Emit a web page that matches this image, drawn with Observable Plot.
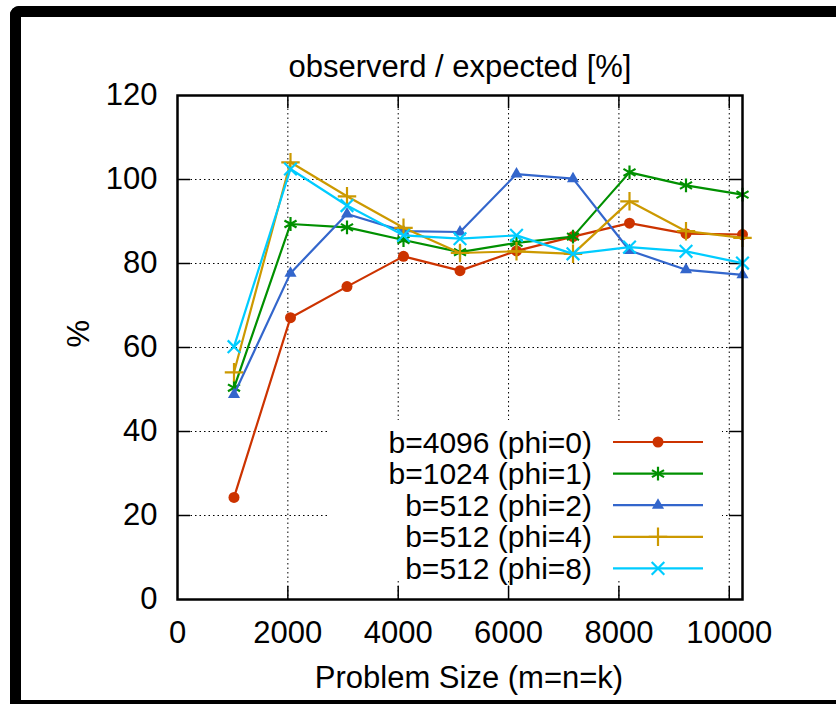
<!DOCTYPE html>
<html><head><meta charset="utf-8">
<script src="https://cdn.jsdelivr.net/npm/d3@7"></script>
<script src="https://cdn.jsdelivr.net/npm/@observablehq/plot@0.6"></script>
<style>
html,body{margin:0;padding:0;background:#fff;}
#wrap{position:relative;width:836px;height:704px;overflow:hidden;background:#fff;}
#chart{position:absolute;left:0;top:0;}
#border{position:absolute;left:10px;top:6px;width:900px;height:683px;border-left:11px solid #000;border-top:11px solid #000;border-bottom:11px solid #000;border-top-left-radius:9px;pointer-events:none;}
</style></head>
<body>
<div id="wrap"><div id="chart"></div><div id="border"></div></div>
<script>
// ---- data ----
const sizes = [1024, 2048, 3072, 4096, 5120, 6144, 7168, 8192, 9216, 10240];
const phi0 = [24.3, 67.1, 74.5, 81.7, 78.3, 83.0, 86.4, 89.6, 87.1, 86.9];
const phi1 = [50.4, 89.4, 88.6, 85.6, 82.7, 84.9, 86.4, 101.7, 98.6, 96.4];
const phi2 = [48.8, 77.7, 91.8, 87.7, 87.5, 101.3, 100.2, 83.1, 78.5, 77.3];
const phi4 = [54.1, 104.1, 96.0, 88.5, 82.5, 82.9, 82.3, 94.8, 87.7, 86.1];
const phi8 = [60.2, 102.5, 93.8, 86.7, 85.9, 86.7, 82.3, 83.9, 82.9, 80.1];
const seriesLabels = ["b=4096 (phi=0)", "b=1024 (phi=1)", "b=512 (phi=2)", "b=512 (phi=4)", "b=512 (phi=8)"];
const seriesColors = ["#cc3300", "#009000", "#3366cc", "#cc9900", "#00ccff"];
const seriesSymbols = ["circle", "asterisk", "triangle", "plus", "times"];
const xTicks = [0, 2000, 4000, 6000, 8000, 10000];
const yTicks = [0, 20, 40, 60, 80, 100, 120];
const titleText = "observerd / expected [%]";
const xLabel = "Problem Size (m=n=k)";
const yLabel = "%";

// ---- build ----
const W = 836, H = 704, mL = 177, mR = 94, mT = 95, mB = 105;
const pw = W - mL - mR, ph = H - mT - mB, tick = 13;
const filled = {circle: true, triangle: true};
const radius = {circle: 5.5, asterisk: 6.6, triangle: 4.5, plus: 6, times: 5.8};
const series = [phi0, phi1, phi2, phi4, phi8].map((vals, i) => ({
  label: seriesLabels[i], color: seriesColors[i], symbol: seriesSymbols[i],
  rows: sizes.map((x, j) => ({x, y: vals[j]}))
}));
const xInner = xTicks.filter(d => d > 0);
const yInner = yTicks.filter(d => d > 0 && d < 120);
const fam = "'Liberation Sans', Arial, Helvetica, sans-serif";

const chart = Plot.plot({
  width: W, height: H,
  marginLeft: mL, marginRight: mR, marginTop: mT, marginBottom: mB,
  style: {fontFamily: fam, fontSize: "31px", background: "transparent", color: "black"},
  x: {domain: [0, 10240]},
  y: {domain: [0, 120]},
  marks: [
    Plot.ruleY(yInner, {y: d => d, stroke: "black", strokeWidth: 1, strokeDasharray: "1.5,3"}),
    Plot.ruleX(xInner, {x: d => d, stroke: "black", strokeWidth: 1, strokeDasharray: "1.5,3"}),
    Plot.tickY(yInner, {y: d => d, insetRight: pw - tick, stroke: "black", strokeWidth: 1.5}),
    Plot.tickY(yInner, {y: d => d, insetLeft: pw - tick, stroke: "black", strokeWidth: 1.5}),
    Plot.tickX(xInner, {x: d => d, insetTop: ph - tick, stroke: "black", strokeWidth: 1.5}),
    Plot.tickX(xInner, {x: d => d, insetBottom: ph - tick, stroke: "black", strokeWidth: 1.5}),
    Plot.axisX(xTicks, {tickSize: 0, tickPadding: 21, fontSize: 31, label: null, tickFormat: d => String(d)}),
    Plot.axisY(yTicks, {tickSize: 0, tickPadding: 20, fontSize: 31, label: null, tickFormat: d => String(d)}),
    ...series.flatMap(s => [
      Plot.line(s.rows, {x: "x", y: "y", stroke: s.color, strokeWidth: 2.2}),
      Plot.dot(s.rows, {x: "x", y: "y", symbol: s.symbol, r: radius[s.symbol],
        fill: filled[s.symbol] ? s.color : "none",
        stroke: filled[s.symbol] ? "none" : s.color, strokeWidth: 2.2})
    ]),
    Plot.frame({stroke: "black", strokeWidth: 2.5}),
    Plot.text([titleText], {frameAnchor: "top", dy: -19, lineAnchor: "bottom", fontSize: 31}),
    Plot.text([xLabel], {frameAnchor: "bottom", dy: 88, dx: 9, lineAnchor: "bottom", fontSize: 31}),
    Plot.text([yLabel], {frameAnchor: "left", dx: -98, rotate: -90, fontSize: 31})
  ]
});
document.getElementById("chart").appendChild(chart);

// ---- key ----
const symMap = {circle: d3.symbolCircle, asterisk: d3.symbolAsterisk, triangle: d3.symbolTriangle, plus: d3.symbolPlus, times: d3.symbolTimes};
const svg = d3.select(chart);
const key = svg.append("g").attr("font-family", fam).attr("font-size", 30);
key.append("rect").attr("x", 330).attr("y", 420).attr("width", 392).attr("height", 160).attr("fill", "white");
series.forEach((s, i) => {
  const yy = 442 + i * 31.6;
  key.append("text").attr("x", 592).attr("y", yy).attr("dy", "0.35em").attr("text-anchor", "end").attr("fill", "black").text(s.label);
  key.append("line").attr("x1", 613).attr("x2", 703).attr("y1", yy).attr("y2", yy).attr("stroke", s.color).attr("stroke-width", 2.2);
  const r = radius[s.symbol];
  key.append("path").attr("transform", `translate(658,${yy})`)
    .attr("d", d3.symbol(symMap[s.symbol], Math.PI * r * r)())
    .attr("fill", filled[s.symbol] ? s.color : "none")
    .attr("stroke", filled[s.symbol] ? "none" : s.color).attr("stroke-width", 2.2);
});
</script>
</body></html>
